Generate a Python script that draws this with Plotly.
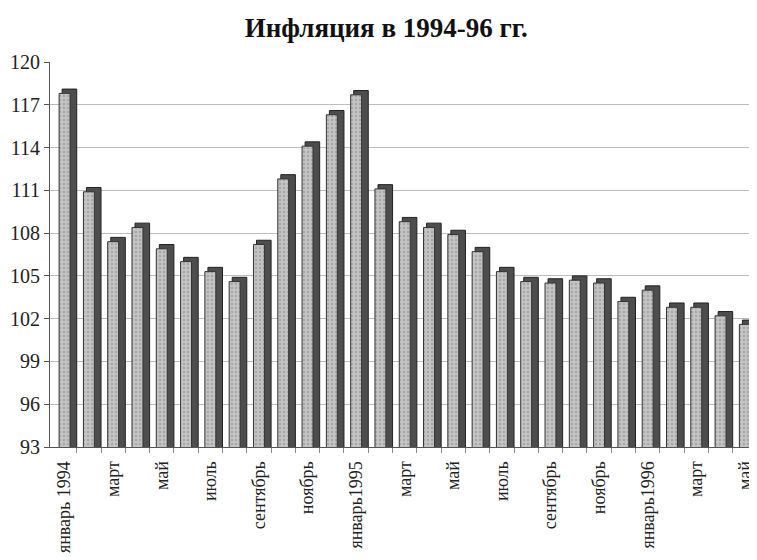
import plotly.graph_objects as go

months = ["январь 1994", "февраль", "март", "апрель", "май", "июнь", "июль", "август",
          "сентябрь", "октябрь", "ноябрь", "декабрь",
          "январь1995", "февраль", "март", "апрель", "май", "июнь", "июль", "август",
          "сентябрь", "октябрь", "ноябрь", "декабрь",
          "январь1996", "февраль", "март", "апрель", "май"]
values = [117.8, 110.9, 107.4, 108.4, 106.9, 106.0, 105.3, 104.6,
          107.2, 111.8, 114.1, 116.3,
          117.7, 111.1, 108.8, 108.4, 107.9, 106.7, 105.3, 104.6,
          104.5, 104.7, 104.5, 103.2,
          104.0, 102.8, 102.8, 102.2, 101.6]
y_ticks = [93, 96, 99, 102, 105, 108, 111, 114, 117, 120]

idx = list(range(len(values)))
label_idx = idx[::2]
label_text = [months[i] for i in label_idx]
boundaries = [i + 0.5 for i in idx]

fig = go.Figure()
# dark side / top of the pseudo-3D bars
fig.add_trace(go.Bar(
    x=[i + 0.2 for i in idx], y=[v + 0.3 for v in values], width=0.6,
    marker=dict(color="#4d4d4d", line=dict(color="#222222", width=1)),
    hoverinfo="skip", showlegend=False))
# front face
fig.add_trace(go.Bar(
    x=idx, y=values, width=0.45,
    marker=dict(color="#bdbdbd", line=dict(color="#333333", width=1),
                pattern=dict(shape=".", fgcolor="#8a8a8a", bgcolor="#c4c4c4", size=4, solidity=0.3)),
    showlegend=False))

# the page body adds an 8px margin, so the figure is 8px smaller and margins shifted
fig.update_layout(
    barmode="overlay",
    width=749, height=552,
    margin=dict(l=42, r=0, t=54, b=113),
    paper_bgcolor="white", plot_bgcolor="white",
    font=dict(family="Liberation Serif", size=18, color="#222222"),
    title=dict(text="<b>Инфляция в 1994-96 гг.</b>", x=0.505, xanchor="center", y=0.965, yanchor="middle",
               font=dict(family="Liberation Serif", size=27, color="#111111")),
    xaxis=dict(range=[-0.6, 28.5], tickmode="array", tickvals=label_idx, ticktext=label_text,
               tickangle=-90, showgrid=False, showline=True, linecolor="#555555",
               ticks="outside", ticklen=6, tickcolor="rgba(0,0,0,0)", automargin=False,
               ticklabeloverflow="allow",
               minor=dict(tickmode="array", tickvals=boundaries, ticks="outside", ticklen=5,
                          tickcolor="#888888", showgrid=False),
               tickfont=dict(family="Liberation Serif", size=18, color="#222222")),
    yaxis=dict(range=[93, 120], tickmode="array", tickvals=y_ticks,
               showgrid=True, gridcolor="#bdbdbd", gridwidth=1, automargin=False,
               showline=True, linecolor="#555555", ticks="outside", ticklen=5, tickcolor="#555555",
               tickfont=dict(family="Liberation Serif", size=20, color="#222222")),
)

fig.write_html("out.html")
